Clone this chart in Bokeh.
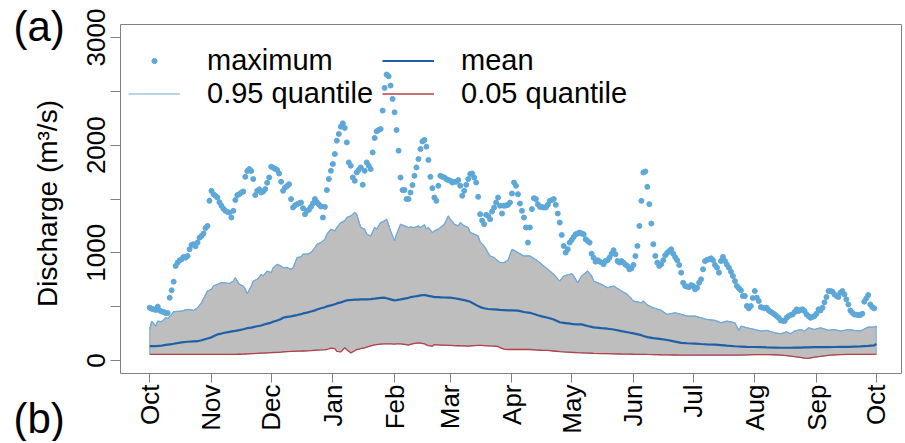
import math
from bokeh.plotting import figure
from bokeh.layouts import row
from bokeh.models import FixedTicker, Legend, LegendItem, Range1d, Label
from bokeh.embed import file_html
from bokeh.resources import INLINE

# ---------------- data ----------------
months = ["Oct", "Nov", "Dec", "Jan", "Feb", "Mar", "Apr", "May", "Jun", "Jul", "Aug", "Sep", "Oct"]
month_start = [0, 31, 61, 92, 123, 151, 182, 212, 243, 273, 304, 335, 365]
y_ticks = [0, 1000, 2000, 3000]
y_minor = [500, 1500, 2500]
panel_labels = ["(a)", "(b)"]
y_title = "Discharge (m³/s)"

# daily maximum discharge (day 0 = 1 Oct)
max_q = [
    490, 480, 475, 470, 500, 465, 455, 450, 440, 440,
    583, 652, 732, 878, 909, 930, 940, 962, 955, 970,
    1033, 1073, 1080, 1060, 1095, 1140, 1157, 1179, 1230, 1250,
    1483, 1576, 1545, 1530, 1514, 1470, 1437, 1410, 1390, 1380,
    1374, 1328, 1390, 1490, 1536, 1545, 1560, 1570, 1706, 1760,
    1778, 1760, 1685, 1536, 1576, 1590, 1560, 1570, 1592, 1650,
    1700, 1800, 1790, 1780, 1770, 1737, 1660, 1576, 1607, 1620,
    1638, 1499, 1421, 1440, 1452, 1460, 1467, 1415, 1359, 1390,
    1400, 1427, 1460, 1499, 1470, 1450, 1430, 1328, 1427, 1583,
    1685, 1762, 1825, 1918, 2042, 2104, 2172, 2203, 2160, 2026,
    1840, 1809, 1700, 1669, 1747, 1770, 1793, 1632, 1762, 1840,
    1810, 1778, 1933, 2067, 2130, 2140, 2150, 2321, 2532, 2656,
    2640, 2554, 2430, 2305, 2141, 1949, 1700, 1583, 1583, 1499,
    1499, 1560, 1629, 1716, 1793, 1871, 1964, 2035, 2048, 1986,
    1862, 1706, 1601, 1514, 1483, 1623, 1716, 1706, 1700, 1685,
    1676, 1670, 1653, 1660, 1660, 1676, 1623, 1530, 1576, 1632,
    1685, 1732, 1737, 1700, 1653, 1520, 1359, 1300, 1266, 1353,
    1343, 1313, 1383, 1420, 1467, 1514, 1437, 1365, 1437, 1440,
    1446, 1467, 1551, 1653, 1623, 1545, 1458, 1390, 1328, 1235,
    1095, 1235, 1406, 1508, 1499, 1452, 1427, 1425, 1421, 1421,
    1446, 1483, 1490, 1499, 1446, 1365, 1281, 1166, 1064, 1002,
    1033, 1095, 1120, 1148, 1173, 1180, 1188, 1180, 1173, 1126,
    1110, 1095, 992, 955, 918, 931, 920, 909, 894, 924,
    931, 955, 990, 1024, 987, 924, 909, 924, 909, 890,
    878, 847, 856, 887, 970, 1064, 1250, 1483, 1747, 1756,
    1613, 1452, 1272, 1080, 971, 909, 878, 894, 931, 977,
    1000, 1018, 1033, 992, 960, 931, 887, 816, 722, 692,
    685, 682, 700, 692, 661, 676, 722, 754, 847, 924,
    935, 940, 949, 931, 887, 862, 816, 924, 962, 924,
    890, 862, 825, 785, 738, 692, 670, 652, 599, 599,
    506, 484, 506, 580, 645, 583, 552, 496, 490, 484,
    490, 465, 452, 440, 428, 412, 397, 372, 368, 366,
    397, 412, 422, 428, 450, 475, 459, 470, 475, 459,
    428, 412, 397, 405, 412, 434, 475, 465, 490, 540,
    589, 645, 645, 639, 614, 600, 589, 630, 645, 614,
    568, 521, 465, 443, 428, 425, 422, 422, 434, 546,
    577, 608, 521, 496, 484,
]
max_days = list(range(len(max_q)))

# quantiles and mean
qday = [0, 1, 3, 4, 6, 8, 9, 11, 12, 16, 19, 22, 24, 26, 29, 31, 32, 34, 36, 37,
        40, 42, 43, 45, 47, 48, 49, 51, 52, 54, 56, 57, 59, 61, 62, 64, 66, 67, 69, 71,
        72, 74, 76, 77, 79, 81, 83, 84, 86, 88, 89, 91, 93, 94, 96, 98, 99, 101, 103, 104,
        105, 106, 108, 109, 111, 113, 114, 116, 118, 119, 121, 123, 124, 126, 128, 130, 131, 133, 135, 136,
        138, 139, 140, 142, 143, 145, 146, 148, 150, 151, 153, 155, 156, 158, 160, 161, 165, 166, 168, 170,
        171, 173, 175, 176, 178, 180, 182, 185, 188, 191, 195, 197, 200, 203, 206, 208, 212, 213, 215, 217,
        220, 222, 223, 227, 230, 233, 237, 240, 243, 247, 248, 250, 253, 257, 260, 264, 267, 270, 274, 277,
        280, 284, 287, 290, 294, 296, 297, 300, 304, 307, 310, 314, 317, 320, 322, 324, 327, 329, 331, 334,
        337, 341, 344, 347, 351, 354, 357, 361, 364, 365]
q95 = [294, 366, 319, 366, 360, 397, 390, 428, 453, 459, 474, 465, 490, 536, 645, 661, 692, 707, 723, 723,
       715, 738, 769, 707, 692, 661, 620, 692, 738, 754, 800, 785, 831, 816, 862, 893, 878, 862, 862, 847,
       862, 955, 962, 987, 987, 1002, 1048, 1080, 1095, 1126, 1173, 1220, 1204, 1235, 1281, 1297, 1328, 1343, 1374, 1359,
       1297, 1235, 1220, 1173, 1157, 1235, 1220, 1281, 1297, 1312, 1204, 1111, 1173, 1266, 1250, 1235, 1240, 1235, 1250, 1235,
       1260, 1220, 1235, 1188, 1204, 1220, 1235, 1266, 1343, 1312, 1266, 1250, 1281, 1250, 1235, 1188, 1157, 1100, 1064, 1000,
       970, 955, 925, 910, 909, 931, 1033, 1002, 971, 971, 925, 893, 847, 800, 738, 785, 806, 785, 723, 785,
       831, 785, 738, 707, 676, 692, 645, 614, 552, 536, 552, 515, 490, 465, 428, 443, 428, 412, 412, 397,
       381, 372, 350, 366, 350, 279, 319, 304, 288, 273, 279, 257, 248, 266, 248, 273, 288, 273, 304, 288,
       304, 279, 288, 273, 288, 279, 273, 310, 310, 319]
qmean = [133, 133, 134, 135, 138, 145, 148, 152, 155, 168, 174, 177, 179, 188, 204, 215, 225, 242, 250, 255,
         265, 272, 275, 282, 290, 295, 300, 305, 310, 318, 325, 332, 342, 352, 360, 372, 385, 397, 405, 410,
         415, 422, 430, 437, 445, 455, 465, 474, 485, 495, 503, 512, 522, 530, 540, 552, 558, 562, 565, 566,
         566, 567, 567, 567, 570, 574, 577, 582, 583, 578, 568, 558, 560, 567, 575, 582, 588, 594, 600, 605,
         608, 605, 600, 593, 589, 588, 587, 585, 584, 583, 578, 572, 568, 560, 552, 545, 505, 496, 485, 478,
         476, 474, 472, 470, 468, 466, 465, 463, 450, 443, 420, 410, 397, 380, 355, 350, 340, 338, 336, 335,
         320, 312, 308, 300, 295, 288, 272, 262, 252, 235, 228, 217, 208, 198, 190, 175, 164, 160, 157, 153,
         150, 148, 143, 138, 132, 130, 129, 126, 125, 124, 122, 120, 118, 118, 118, 119, 120, 121, 122, 124,
         124, 124, 125, 126, 127, 129, 131, 135, 140, 155]
q05 = [56, 56, 56, 56, 56, 56, 56, 56, 56, 56, 56, 56, 56, 56, 56, 56, 56, 56, 56, 56,
       56, 57, 57, 58, 59, 60, 61, 63, 64, 66, 68, 69, 71, 73, 74, 76, 78, 80, 82, 84,
       85, 86, 87, 88, 90, 92, 95, 97, 98, 100, 102, 115, 110, 85, 80, 118, 100, 71, 90, 102,
       105, 110, 118, 124, 135, 145, 148, 152, 155, 155, 155, 152, 155, 155, 150, 143, 150, 158, 164, 162,
       155, 145, 138, 133, 148, 145, 143, 142, 140, 140, 138, 137, 136, 135, 133, 135, 140, 140, 138, 136,
       135, 134, 130, 120, 105, 102, 102, 102, 102, 102, 97, 95, 93, 88, 83, 80, 75, 74, 72, 71,
       68, 67, 66, 64, 63, 62, 60, 59, 58, 57, 57, 56, 55, 53, 52, 51, 50, 50, 50, 50,
       50, 50, 50, 50, 50, 50, 50, 52, 54, 55, 55, 53, 50, 45, 40, 35, 28, 22, 19, 31,
       38, 48, 52, 55, 56, 56, 56, 56, 56, 56]

# ---------------- styling constants ----------------
FONT = "Liberation Sans"
GRAY = "#808080"
SIDE_W = 66
TOTAL_W = 903
TOTAL_H = 441

# ---------------- main figure ----------------
p = figure(width=TOTAL_W - SIDE_W, height=TOTAL_H, output_backend="svg", toolbar_location=None,
           x_range=Range1d(-14.7, 377.7), y_range=Range1d(-121, 3121),
           min_border_left=120 - SIDE_W, min_border_top=24, min_border_right=2, min_border_bottom=68)
p.frame_align = False
p.xgrid.visible = False
p.ygrid.visible = False
p.outline_line_color = GRAY
p.outline_line_width = 1
p.background_fill_color = "white"
p.border_fill_color = "white"

band_x = qday + qday[::-1]
band_y = q95 + q05[::-1]
p.patch(band_x, band_y, fill_color="#BEBEBE", line_color="#72AADB", line_width=1)
r95 = p.line(qday, q95, line_color="#72AADB", line_width=1.2)
r05 = p.line(qday, q05, line_color="#BA3F45", line_width=1.3)
rmean = p.line(qday, qmean, line_color="#1F5FA8", line_width=2.2)
rmax = p.scatter(max_days, max_q, size=5, fill_color="#5DA8D8", line_color="#5DA8D8")

# x axis
xa = p.xaxis[0]
xa.ticker = FixedTicker(ticks=month_start)
xa.major_label_overrides = {d: m for d, m in zip(month_start, months)}
xa.major_label_orientation = math.pi / 2
xa.major_label_text_font = FONT
xa.major_label_text_font_size = "26px"
xa.major_label_text_color = "black"
xa.major_label_standoff = 2
xa.axis_line_color = None
xa.major_tick_line_color = GRAY
xa.major_tick_out = 9
xa.major_tick_in = 0
xa.minor_tick_line_color = None

# y axis
ya = p.yaxis[0]
ya.ticker = FixedTicker(ticks=y_ticks, minor_ticks=y_minor)
ya.major_label_orientation = "vertical"
ya.major_label_text_font = FONT
ya.major_label_text_font_size = "26px"
ya.major_label_text_color = "black"
ya.major_label_standoff = 5
ya.axis_line_color = None
ya.major_tick_line_color = GRAY
ya.major_tick_out = 10
ya.major_tick_in = 0
ya.minor_tick_line_color = GRAY
ya.minor_tick_out = 10
ya.minor_tick_in = 0

legend = Legend(items=[
    LegendItem(label="maximum", renderers=[rmax]),
    LegendItem(label="0.95 quantile", renderers=[r95]),
    LegendItem(label="mean", renderers=[rmean]),
    LegendItem(label="0.05 quantile", renderers=[r05]),
], ncols=2, nrows=2, location=(8, 263))
legend.border_line_color = None
legend.background_fill_alpha = 0
legend.padding = 0
legend.margin = 0
legend.spacing = 0
legend.glyph_width = 52
legend.glyph_height = 13
legend.label_height = 30
legend.label_width = 175
legend.label_standoff = 27
legend.label_text_font = FONT
legend.label_text_font_size = "29px"
legend.label_text_color = "black"
p.add_layout(legend)

# ---------------- left strip: panel tags and y-axis title ----------------
side = figure(width=SIDE_W, height=TOTAL_H, output_backend="svg", toolbar_location=None,
              x_range=Range1d(0, SIDE_W), y_range=Range1d(0, TOTAL_H),
              x_axis_type=None, y_axis_type=None, min_border=0)
side.frame_align = False
side.outline_line_color = None
side.background_fill_color = "white"
side.border_fill_color = "white"
side.add_layout(Label(x=13, y=TOTAL_H - 26, text=panel_labels[0], text_font=FONT,
                      text_font_size="42px", text_baseline="middle", text_color="black"))
side.add_layout(Label(x=13, y=TOTAL_H - 418, text=panel_labels[1], text_font=FONT,
                      text_font_size="42px", text_baseline="middle", text_color="black"))
side.add_layout(Label(x=46.6, y=TOTAL_H - 203, text=y_title, angle=math.pi / 2,
                      text_font=FONT, text_font_size="28px", text_align="center",
                      text_baseline="middle", text_color="black"))

layout = row(side, p)
open("out.html", "w").write(file_html(layout, INLINE))
